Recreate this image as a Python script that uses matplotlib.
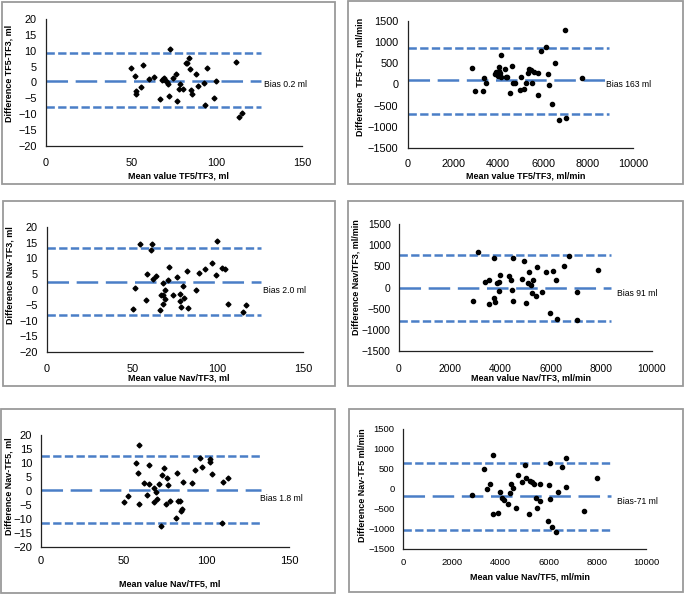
import matplotlib
matplotlib.use("Agg")
import matplotlib.pyplot as plt
from matplotlib.patches import Rectangle

plt.rcParams['font.family'] = ['Liberation Sans', 'DejaVu Sans']
plt.rcParams['lines.scale_dashes'] = False

# ---- data ----
# panel 1: TF5 vs TF3, ml
p1_mean = [49.7, 52.2, 52.8, 52.8, 55.5, 57.1, 60.6, 63.0, 66.9, 67.9, 68.8, 69.8, 70.8,
           72.8, 72.2, 74.7, 76.3, 76.7, 78.0, 78.8, 80.2, 81.9, 82.7, 83.5, 84.5, 84.9,
           85.5, 88.0, 88.8, 92.3, 93.1, 94.3, 98.2, 99.4, 111.3, 112.8, 114.6, 69.0, 71.5]
p1_diff = [4.5, 2.0, -2.6, -3.7, -1.5, 5.5, 1.2, 1.6, -5.2, 0.8, 1.2, 0.8, 0.3,
           10.4, -4.3, 1.3, 2.7, -5.8, -2.0, -0.6, -2.2, 6.0, 6.0, 7.6, 4.3, -2.4,
           -3.7, 2.7, -1.0, -0.3, -7.2, 4.6, -5.0, 0.6, 6.6, -10.8, -9.7, 1.5, -0.5]
p1_lines = [9.2, 0.6, -7.8]
p1_line_end = 126
p1_bias_text = "Bias 0.2 ml"

# panel 2: TF5 vs TF3, ml/min
p2_mean = [2859, 2963, 3333, 3378, 3452, 3867, 3926, 4030, 4044, 4000, 4074, 4133, 4148,
           4311, 4370, 4415, 4519, 4622, 4652, 4770, 4963, 5022, 5156, 5230, 5319, 5363,
           5452, 5526, 5600, 5778, 5793, 5926, 6119, 6237, 6267, 6385, 6548, 6696, 7037,
           6993, 7719]
p2_diff = [380, -144, -152, 145, 36, 247, 302, 404, 325, 200, 278, 693, 185,
           357, 169, 185, -207, 435, 44, 44, -129, 185, -97, 44, 278, 364,
           341, 28, 302, 278, -246, 787, 889, 247, -12, -466, 513, -849, -794,
           1296, 161]
p2_lines = [874, 106, -700]
p2_line_end = 8950
p2_bias_text = "Bias 163 ml"

# panel 3: Nav vs TF3, ml
p3_mean = [50.6, 51.6, 54.5, 57.9, 58.6, 60.8, 61.6, 62.0, 63.7, 66.2, 66.6, 67.8, 68.2,
           68.2, 69.0, 69.1, 71.5, 71.1, 73.6, 76.0, 77.9, 77.9, 78.3, 79.9, 80.5, 81.8,
           82.8, 87.1, 89.2, 92.5, 96.6, 98.9, 99.6, 102.3, 104.4, 105.8, 114.6, 116.7]
p3_diff = [-6.1, 0.4, 14.7, -3.2, 5.1, 12.7, 14.7, 3.3, 4.2, -6.4, -1.8, 2.0, -1.8,
           -4.6, -3.1, 0.0, 7.1, 3.1, -1.8, 4.0, -1.3, -3.7, -5.7, 1.2, -2.8, 5.8,
           -5.8, 0.0, 5.4, 6.6, 8.5, 4.8, 15.4, 6.8, 6.5, -4.7, -7.1, -5.0]
p3_lines = [13.2, 2.5, -8.2]
p3_line_end = 125.5
p3_bias_text = "Bias 2.0 ml"

# panel 4: Nav vs TF3, ml/min
p4_mean = [2919, 3118, 3408, 3540, 3567, 3765, 3765, 3805, 3857, 3937, 3963, 3990, 4346,
           4425, 4452, 4491, 4505, 4848, 4954, 5020, 5112, 5152, 5218, 5258, 5310, 5416,
           5443, 5654, 5812, 5984, 6103, 6209, 6235, 6513, 6724, 7054, 7041, 7847]
p4_diff = [-327, 846, 122, 169, -382, 689, -256, -335, 114, 122, -83, 295, 280,
           185, -59, 705, -319, 201, 634, -374, 114, 374, 59, -130, 169, -201,
           484, -98, 358, -595, 390, 169, -744, 516, 744, -98, -768, 421]
p4_lines = [768, -20, -799]
p4_line_end = 8380
p4_bias_text = "Bias 91 ml"

# panel 5: Nav vs TF5, ml
p5_mean = [49.9, 52.9, 57.5, 58.5, 59.1, 59.5, 62.3, 64.1, 65.2, 65.2, 68.4, 68.6, 69.6,
           70.0, 71.6, 72.4, 73.0, 74.4, 75.4, 76.4, 77.0, 78.0, 81.6, 82.4, 83.1, 84.1,
           84.5, 85.1, 86.1, 91.5, 92.9, 96.1, 97.3, 102.1, 102.4, 103.4, 109.6, 110.2, 113.0]
p5_diff = [-3.8, -1.9, 10.1, 6.6, -4.5, 16.4, 2.7, -1.6, 9.3, 2.4, -4.1, 1.1, -0.4,
           -2.9, 2.4, -12.5, 5.7, 8.3, -4.5, 4.5, 2.1, -3.6, -9.6, 6.3, -3.6, -3.6,
           -7.1, -6.6, 3.3, 2.7, 7.5, 11.9, 8.7, 11.3, 10.4, 5.9, -11.6, 3.3, 4.5]
p5_lines = [12.6, 0.4, -11.3]
p5_line_end = 133
p5_bias_text = "Bias 1.8 ml"

# panel 6: Nav vs TF5, ml/min
p6_mean = [2857, 3324, 3462, 3571, 3723, 3723, 3929, 3984, 4080, 4148, 4327, 4410, 4464,
           4547, 4670, 4712, 4890, 5014, 5082, 5192, 5220, 5302, 5385, 5467, 5495, 5632,
           5646, 5962, 6003, 6030, 6044, 6126, 6291, 6387, 6552, 6690, 6690, 7445, 7967]
p6_diff = [-150, 492, 0, 133, 858, -625, -592, -83, -233, -267, -375, -92, 133,
           17, -475, 350, 167, 600, 267, -625, 192, 167, 117, -233, -475, -300,
           125, -808, 92, 658, -258, -950, -1083, -67, 542, 767, 42, -542, 267]
p6_lines = [658, -167, -1025]
p6_line_end = 8550
p6_bias_text = "Bias-71 ml"

xlabels = ["Mean value TF5/TF3, ml", "Mean value TF5/TF3, ml/min",
           "Mean value Nav/TF3, ml", "Mean value Nav/TF3, ml/min",
           "Mean value Nav/TF5, ml", "Mean value Nav/TF5, ml/min"]
ylabels = ["Difference TF5-TF3, ml", "Difference  TF5-TF3, ml/min",
           "Difference Nav-TF3, ml", "Difference Nav/TF3, ml/min",
           "Difference Nav-TF5, ml", "Difference Nav-TF5 ml/min"]

W, H = 685, 594
BLUE = '#4A7EC7'

fig = plt.figure(figsize=(6.85, 5.94), dpi=100)


def px_rect(l, t, r, b):
    return [l / W, 1 - b / H, (r - l) / W, (b - t) / H]


# panel boxes
boxes = [(2, 2, 335, 184), (348, 1, 683, 184),
         (3, 201, 335, 386), (348, 201, 683, 386),
         (1, 409, 335, 593), (349, 409, 683, 592)]
for l, t, r, b in boxes:
    fig.patches.append(Rectangle((l / W, 1 - b / H), (r - l) / W, (b - t) / H,
                                 transform=fig.transFigure, fill=False,
                                 edgecolor='#9a9a9a', linewidth=1.3))

panels = [
    dict(x=p1_mean, y=p1_diff, lines=p1_lines, end=p1_line_end, txt=p1_bias_text,
         rect=(46, 19, 302, 146), xlim=(0, 150), ylim=(-20, 20), xt=[0, 50, 100, 150],
         yt=range(-20, 21, 5), marker='D', ms=2.5, fs=7.8, ypad=6.7, xpad=9.0,
         txy=(128, -0.5), ylc=(-0.145, 0.575), xlc=(0.516, -0.236)),
    dict(x=p2_mean, y=p2_diff, lines=p2_lines, end=p2_line_end, txt=p2_bias_text,
         rect=(408, 21, 633, 148), xlim=(0, 10000), ylim=(-1500, 1500),
         xt=range(0, 10001, 2000), yt=range(-1500, 1501, 500), marker='o', ms=3.0,
         fs=7.8, ypad=7.0, xpad=8.0, txy=(8800, 0), ylc=(-0.215, 0.56), xlc=(0.522, -0.217)),
    dict(x=p3_mean, y=p3_diff, lines=p3_lines, end=p3_line_end, txt=p3_bias_text,
         rect=(47, 227, 303, 352), xlim=(0, 150), ylim=(-20, 20), xt=[0, 50, 100, 150],
         yt=range(-20, 21, 5), marker='D', ms=2.5, fs=7.8, ypad=6.7, xpad=8.3,
         txy=(126.5, -0.2), ylc=(-0.143, 0.615), xlc=(0.515, -0.209)),
    dict(x=p4_mean, y=p4_diff, lines=p4_lines, end=p4_line_end, txt=p4_bias_text,
         rect=(399, 224, 652, 351), xlim=(0, 10000), ylim=(-1500, 1500),
         xt=range(0, 10001, 2000), yt=range(-1500, 1501, 500), marker='o', ms=3.0,
         fs=7.4, ypad=6.0, xpad=9.5, txy=(8625, -130), ylc=(-0.169, 0.585), xlc=(0.52, -0.21)),
    dict(x=p5_mean, y=p5_diff, lines=p5_lines, end=p5_line_end, txt=p5_bias_text,
         rect=(41, 435, 289, 547), xlim=(0, 150), ylim=(-20, 20), xt=[0, 50, 100, 150],
         yt=range(-20, 21, 5), marker='D', ms=2.5, fs=8.0, ypad=6.5, xpad=6.7,
         txy=(132.3, -2.6), ylc=(-0.130, 0.545), xlc=(0.517, -0.328)),
    dict(x=p6_mean, y=p6_diff, lines=p6_lines, end=p6_line_end, txt=p6_bias_text,
         rect=(403, 429, 646, 549), xlim=(0, 10000), ylim=(-1500, 1500),
         xt=range(0, 10001, 2000), yt=range(-1500, 1501, 500), marker='o', ms=3.0,
         fs=6.8, ypad=6.0, xpad=6.5, txy=(8805, -300), ylc=(-0.167, 0.533), xlc=(0.524, -0.231)),
]

for i, p in enumerate(panels):
    ax = fig.add_axes(px_rect(*p['rect']))
    up, bias, low = p['lines']
    ax.plot([0, p['end']], [up, up], color=BLUE, lw=1.8, dashes=(6, 2.4), zorder=1)
    ax.plot([0, p['end']], [low, low], color=BLUE, lw=1.8, dashes=(6, 2.4), zorder=1)
    ax.plot([0, p['end']], [bias, bias], color=BLUE, lw=1.8, dashes=(15.5, 5.5), zorder=1)
    ax.plot(p['x'], p['y'], linestyle='none', marker=p['marker'], ms=p['ms'],
            color='black', zorder=3)
    ax.text(p['txy'][0], p['txy'][1], p['txt'], fontsize=6.2, va='center', ha='left',
            clip_on=False)

    ax.set_xlim(*p['xlim'])
    ax.set_ylim(*p['ylim'])
    ax.set_xticks(list(p['xt']))
    ax.set_yticks(list(p['yt']))
    ax.tick_params(axis='both', length=0, labelsize=p['fs'])
    ax.tick_params(axis='y', pad=p['ypad'])
    ax.tick_params(axis='x', pad=p['xpad'])
    for s in ['top', 'right']:
        ax.spines[s].set_visible(False)
    for s in ['left', 'bottom']:
        ax.spines[s].set_linewidth(0.9)
        ax.spines[s].set_color('#222222')

    ax.set_xlabel(xlabels[i], fontsize=6.5, fontweight='bold')
    ax.set_ylabel(ylabels[i], fontsize=6.5, fontweight='bold')
    ax.xaxis.set_label_coords(*p['xlc'])
    ax.yaxis.set_label_coords(*p['ylc'])
    ax.xaxis.label.set_va('center')
    ax.yaxis.label.set_va('center')

fig.savefig('out.png', dpi=100)
